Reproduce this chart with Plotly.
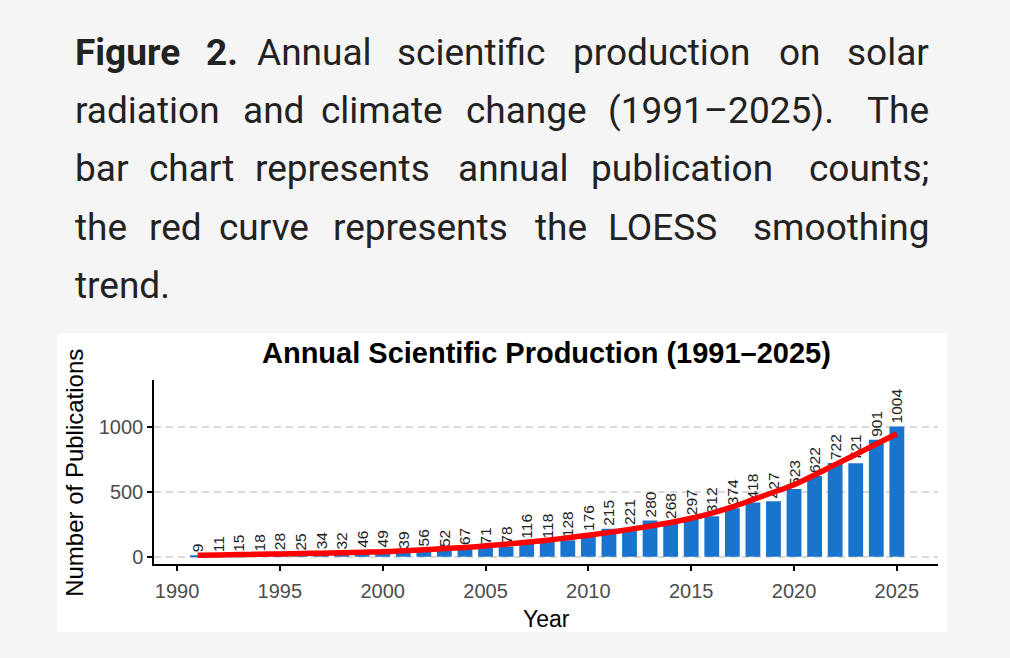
import plotly.graph_objects as go

# ---- данные ----
years = list(range(1991, 2026))
counts = [9, 11, 15, 18, 28, 25, 34, 32, 46, 49,
          39, 56, 52, 67, 71, 78, 116, 118, 128, 176,
          215, 221, 280, 268, 297, 312, 374, 418, 427, 523,
          622, 722, 721, 901, 1004]
loess = [12, 14, 17, 19, 22, 25, 28, 31, 35, 39,
         46, 54, 63, 72, 84, 97, 112, 128, 146, 166,
         188, 211, 236, 264, 297, 336, 384, 440, 497, 555,
         630, 710, 788, 869, 948]
x_ticks = [1990, 1995, 2000, 2005, 2010, 2015, 2020, 2025]
y_ticks = [0, 500, 1000]

chart_title = "Annual Scientific Production (1991–2025)"
x_title = "Year"
y_title = "Number of Publications"

# подпись к рисунку: (строка, [(слово, x_левый_край)]), None = прижать вправо
caption_lines = [
    [("<b>Figure</b>", 76), ("<b>2.</b>", 206.7), ("Annual", 258), ("scientific", 397.6),
     ("production", 573.5), ("on", 779.6), ("solar", None)],
    [("radiation", 76), ("and", 243.6), ("climate", 322.2), ("change", 467.1),
     ("(1991–2025).", 608.9), ("The", None)],
    [("bar", 76), ("chart", 149.5), ("represents", 256.4), ("annual", 458.8),
     ("publication", 591.5), ("counts;", None)],
    [("the", 76), ("red", 149.5), ("curve", 220.4), ("represents", 333.8),
     ("the", 536.1), ("LOESS", 608.9), ("smoothing", None)],
    [("trend.", 76)],
]
caption_baselines = [63.3, 122, 180.7, 239.4, 298]

W, H = 1010, 658
def px(x):
    return x / W
def py(y):
    return 1 - y / H

fig = go.Figure()

fig.add_trace(go.Bar(
    x=years, y=counts, width=0.72,
    marker=dict(color="#1874CD", line=dict(width=0)),
    text=[str(c) for c in counts], textposition="outside", textangle=-90,
    textfont=dict(family="Arial, Liberation Sans", size=15.5, color="#222222"),
    constraintext="none", cliponaxis=False, showlegend=False,
))
fig.add_trace(go.Scatter(
    x=years, y=loess, mode="lines",
    line=dict(color="#FF0000", width=5.5, shape="spline"),
    showlegend=False, hoverinfo="skip",
))

# белая подложка под график
fig.add_shape(type="rect", xref="paper", yref="paper",
              x0=px(57), x1=px(947), y0=py(635), y1=py(335),
              fillcolor="white", line=dict(width=0), layer="below")

annots = []
# подпись (по словам, чтобы повторить выравнивание по ширине)
for line, base in zip(caption_lines, caption_baselines):
    yc = py(base - 11)
    for word, xl in line:
        if xl is None:
            annots.append(dict(text=word, x=px(931), xanchor="right"))
        else:
            annots.append(dict(text=word, x=px(xl - 3), xanchor="left"))
        annots[-1].update(y=yc, yanchor="middle", xref="paper", yref="paper",
                          showarrow=False,
                          font=dict(family="Roboto", size=37, color="#222222"))

axfont = "Arial, Liberation Sans"
annots.append(dict(text="<b>" + chart_title + "</b>", x=px(546), y=py(355),
                   xref="paper", yref="paper", showarrow=False,
                   xanchor="center", yanchor="middle",
                   font=dict(family=axfont, size=29, color="black")))
annots.append(dict(text=x_title, x=px(546), y=py(622),
                   xref="paper", yref="paper", showarrow=False,
                   xanchor="center", yanchor="middle",
                   font=dict(family=axfont, size=23, color="black")))
annots.append(dict(text=y_title, x=px(75), y=py(475), textangle=-90,
                   xref="paper", yref="paper", showarrow=False,
                   xanchor="center", yanchor="middle",
                   font=dict(family=axfont, size=24, color="black")))

fig.update_layout(
    width=W, height=H, autosize=False,
    margin=dict(l=0, r=0, t=0, b=0),
    paper_bgcolor="#f5f5f5", plot_bgcolor="white",
    annotations=annots, bargap=0.28,
)
fig.update_xaxes(
    domain=[px(154), px(938)], range=[1988.88, 2027.0],
    tickvals=x_ticks, ticks="outside", ticklen=5, tickwidth=1.5, tickcolor="black",
    showline=True, linecolor="black", linewidth=1.5, showgrid=False, zeroline=False,
    ticklabelstandoff=3,
    tickfont=dict(family=axfont, size=20, color="#4D4D4D"),
)
fig.update_yaxes(
    domain=[py(567), py(382)], range=[-59, 1360],
    tickvals=y_ticks, ticks="outside", ticklen=5, tickwidth=1.5, tickcolor="black",
    showline=True, linecolor="black", linewidth=1.5, zeroline=False,
    showgrid=True, gridcolor="#D9D9D9", gridwidth=1.5, griddash="7px,5px",
    tickfont=dict(family=axfont, size=20, color="#4D4D4D"),
)

# убираем отступы страницы, чтобы фигура легла ровно в окно
fig.write_html("out.html", config={"displayModeBar": False},
               post_script="document.body.style.margin='0';"
                           "document.body.style.overflow='hidden';")
